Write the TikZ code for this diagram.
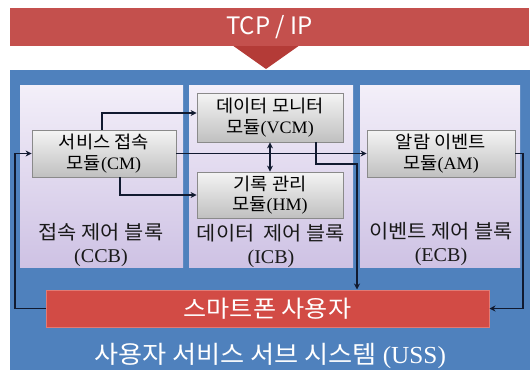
\documentclass[tikz,border=0pt]{standalone}
\usepackage{fontspec}
\setmainfont[FakeStretch=1.07]{Noto Sans CJK KR}
\newfontfamily\lat[FakeStretch=1.03]{Liberation Serif}
\newfontfamily\tcpfont{Noto Sans CJK KR}
\usetikzlibrary{arrows.meta,calc,shadows}
\definecolor{bannerred}{HTML}{C4504D}
\definecolor{trired}{HTML}{B43B37}
\definecolor{ussblue}{HTML}{4F81BD}
\definecolor{panelTop}{HTML}{F3EFF9}
\definecolor{panelBot}{HTML}{CEC2E4}
\definecolor{modTop}{HTML}{F4F4F4}
\definecolor{modBot}{HTML}{C0C0C0}
\definecolor{modEdge}{HTML}{8A8A8A}
\definecolor{phoneRed}{HTML}{D24B45}
\definecolor{phoneEdge}{HTML}{E27A74}
\definecolor{lineCol}{HTML}{111A30}
\begin{document}
\begin{tikzpicture}[x=1pt,y=-1pt,
  panel/.style={draw=none, top color=panelTop, bottom color=panelBot,
    minimum height=182pt, inner sep=0pt},
  module/.style={draw=modEdge, line width=0.8pt, top color=modTop, bottom color=modBot,
    align=center, inner sep=0pt, minimum height=47pt,
    font=\fontsize{17.5}{20.5}\selectfont,
    drop shadow={shadow xshift=1.2pt, shadow yshift=-1.2pt, opacity=0.35}},
  lbl/.style={align=center, inner sep=0pt, text=black!90,
    font=\fontsize{19.5}{23}\selectfont},
  arr/.style={draw=lineCol, line width=1.4pt, -{Stealth[length=6pt,width=6pt]}},
  dblarr/.style={draw=lineCol, line width=1.4pt,
    {Stealth[length=6pt,width=6pt]}-{Stealth[length=6pt,width=6pt]}},
  plain/.style={draw=lineCol, line width=1.4pt}]
\useasboundingbox (0,0) rectangle (532,370);
% top banner and pointer
\fill[trired] (232,45) -- (300,45) -- (266,69) -- cycle;
\node[fill=bannerred, minimum width=519pt, minimum height=38pt, inner sep=0pt,
  text=white, font=\tcpfont\fontsize{24}{27}\selectfont] (tcp) at (269.5,27) {TCP / IP};
% blue subsystem
\fill[ussblue] (10,70) rectangle (530,370);
% panels
\node[panel, minimum width=163pt] (ccb) at (101.5,176) {};
\node[panel, minimum width=164pt] (icb) at (271,176) {};
\node[panel, minimum width=160pt] (ecb) at (440,176) {};
% panel labels
\node[lbl] (ccbl) at (101,245) {접속 제어 블록\\{\lat (CCB)}};
\node[lbl] (icbl) at (271,246) {데이터\ \ 제어 블록\\{\lat (ICB)}};
\node[lbl] (ecbl) at (441,244.5) {이벤트 제어 블록\\{\lat (ECB)}};
% modules
\node[module, minimum width=144pt] (cm) at (104,153.5) {서비스 접속\\모듈{\lat (CM)}};
\node[module, minimum width=146pt, minimum height=49pt] (vcm) at (270,117.5) {데이터 모니터\\모듈{\lat (VCM)}};
\node[module, minimum width=146pt, minimum height=46pt] (hm) at (270,195) {기록 관리\\모듈{\lat (HM)}};
\node[module, minimum width=148pt] (am) at (441,153.5) {알람 이벤트\\모듈{\lat (AM)}};
% smartphone user bar
\node[fill=phoneRed, draw=phoneEdge, line width=1pt, minimum width=443pt, minimum height=37pt,
  inner sep=0pt, text=white, font=\fontsize{23.5}{26}\selectfont] (phone) at (267.5,308.5) {스마트폰 사용자};
% subsystem title
\node[text=white, inner sep=0pt, font=\fontsize{24.5}{27}\selectfont] (uss) at (270,356) {사용자 서비스 서브 시스템 {\lat (USS)}};
% connectors
\coordinate (lft) at (15,0);
\coordinate (rgt) at (523,0);
\coordinate (bend) at (357,164);
\draw[arr] (phone.west) -- (phone.west -| lft) -- (lft |- cm.west) -- (cm.west);
\draw[arr] ($(cm.north)+(-2,0)$) |- ($(vcm.west)+(0,-4.5)$);
\draw[arr] (cm.east) -- (am.west);
\draw[arr] ($(cm.south)+(16,0)$) |- (hm.west);
\draw[dblarr] (vcm.south) -- (hm.north);
\draw[arr] ($(vcm.south)+(46,0)$) |- (bend) -- (bend |- phone.north);
\draw[arr] (am.east) -- (am.east -| rgt) -- (rgt |- phone.east) -- (phone.east);
\end{tikzpicture}
\end{document}
